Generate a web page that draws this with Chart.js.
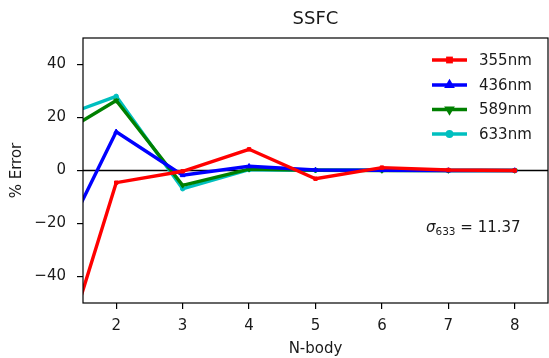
<!DOCTYPE html>
<html>
<head>
<meta charset="utf-8">
<script src="https://cdn.jsdelivr.net/npm/chart.js@4/dist/chart.umd.min.js"></script>
<style>
  html, body { margin: 0; padding: 0; background: #ffffff; }
  #wrap { width: 549px; height: 358px; }
</style>
</head>
<body>
<div id="wrap"><canvas id="c" width="549" height="358"></canvas></div>
<script>
// N-body order and percent error per wavelength
const nBody  = [1, 2, 3, 4, 5, 6, 7, 8];
const err355 = [-85.5, -4.6, -0.3, 8.0, -3.1, 1.1, 0.2, 0.0];
const err436 = [-36.4, 14.6, -1.8, 1.6, 0.2, 0.1, 0.0, 0.0];
const err589 = [11.4, 26.4, -5.6, 0.5, 0.1, 0.0, 0.0, 0.0];
const err633 = [18.8, 28.0, -6.9, 0.3, 0.1, 0.1, 0.0, 0.0];
const xTicks = [2, 3, 4, 5, 6, 7, 8];
const yTicks = [-40, -20, 0, 20, 40];
const seriesNames = ['355nm', '436nm', '589nm', '633nm'];
const sigmaLabel = { base: 'σ', sub: '633', rest: ' = 11.37' };

const FONT = 'DejaVu Sans';
const INK = '#1a1a1a';

function pts(ys) { return nBody.map((x, i) => ({ x: x, y: ys[i] })); }

const styles = [
  { color: '#ff0000', point: 'rect', rot: 0, r: 2.4 },
  { color: '#0000ff', point: 'triangle', rot: 0, r: 2.8 },
  { color: '#008000', point: 'triangle', rot: 180, r: 2.8 },
  { color: '#00bfbf', point: 'circle', rot: 0, r: 2.2 }
];
const allSeries = [err355, err436, err589, err633];

const datasets = allSeries.map((ys, i) => ({
  label: seriesNames[i],
  data: pts(ys),
  borderColor: styles[i].color,
  backgroundColor: styles[i].color,
  borderWidth: 3.4,
  pointStyle: styles[i].point,
  pointRotation: styles[i].rot,
  pointRadius: styles[i].r,
  pointBorderWidth: 1,
  tension: 0
}));

const decor = {
  id: 'decor',
  beforeDatasetsDraw(chart) {
    const { ctx, chartArea: a, scales } = chart;
    const y0 = scales.y.getPixelForValue(0);
    ctx.save();
    ctx.strokeStyle = '#000';
    ctx.lineWidth = 1.5;
    ctx.beginPath();
    ctx.moveTo(a.left, y0);
    ctx.lineTo(a.right, y0);
    ctx.stroke();
    ctx.restore();
  },
  afterDraw(chart) {
    const { ctx, chartArea: a } = chart;
    ctx.save();
    // axes frame
    ctx.strokeStyle = '#000';
    ctx.lineWidth = 1.2;
    ctx.strokeRect(a.left, a.top, a.right - a.left, a.bottom - a.top);

    // title
    ctx.fillStyle = INK;
    ctx.font = '18px "' + FONT + '"';
    ctx.textAlign = 'center';
    ctx.textBaseline = 'middle';
    ctx.fillText('SSFC', (a.left + a.right) / 2, 19);

    // axis titles
    ctx.font = '15px "' + FONT + '"';
    ctx.fillText('N-body', (a.left + a.right) / 2, 349);
    ctx.save();
    ctx.translate(17, (a.top + a.bottom) / 2);
    ctx.rotate(-Math.PI / 2);
    ctx.fillText('% Error', 0, 0);
    ctx.restore();

    // legend
    ctx.textAlign = 'left';
    const rowY = [60, 85, 109.5, 134];
    chart.data.datasets.forEach((ds, i) => {
      const y = rowY[i];
      ctx.strokeStyle = ds.borderColor;
      ctx.lineWidth = 3.4;
      ctx.beginPath();
      ctx.moveTo(432, y);
      ctx.lineTo(467, y);
      ctx.stroke();
      ctx.fillStyle = ds.borderColor;
      Chart.helpers.drawPoint(ctx, {
        pointStyle: ds.pointStyle, rotation: ds.pointRotation,
        radius: ds.pointRadius, borderWidth: 1
      }, 449.5, y);
      ctx.fillStyle = INK;
      ctx.fillText(ds.label, 479, y + 1);
    });

    // sigma annotation
    let x = 426;
    const yb = 232;
    ctx.textBaseline = 'alphabetic';
    ctx.font = 'italic 15px "' + FONT + '"';
    ctx.fillText(sigmaLabel.base, x, yb);
    x += ctx.measureText(sigmaLabel.base).width;
    ctx.font = '10.5px "' + FONT + '"';
    ctx.fillText(sigmaLabel.sub, x, yb + 3);
    x += ctx.measureText(sigmaLabel.sub).width;
    ctx.font = '15px "' + FONT + '"';
    ctx.fillText(sigmaLabel.rest, x, yb);
    ctx.restore();
  }
};

new Chart(document.getElementById('c'), {
  type: 'line',
  data: { datasets: datasets },
  plugins: [decor],
  options: {
    responsive: false,
    animation: false,
    layout: { autoPadding: false, padding: { top: 38, right: 1, left: 0, bottom: 0 } },
    plugins: { legend: { display: false }, title: { display: false }, tooltip: { enabled: false } },
    scales: {
      x: {
        type: 'linear', min: 1.5, max: 8.5,
        afterBuildTicks(s) { s.ticks = xTicks.map(v => ({ value: v })); },
        afterFit(s) { s.height = 55; s.paddingLeft = 0; s.paddingRight = 0; },
        border: { display: false },
        grid: { drawOnChartArea: false, drawTicks: true, tickLength: 6, color: '#000', lineWidth: 1.2 },
        ticks: { color: INK, font: { family: FONT, size: 15 }, padding: 8, maxRotation: 0 }
      },
      y: {
        type: 'linear', min: -50, max: 50,
        afterBuildTicks(s) { s.ticks = yTicks.map(v => ({ value: v })); },
        afterFit(s) { s.width = 83; s.paddingTop = 0; s.paddingBottom = 0; },
        border: { display: false },
        grid: { drawOnChartArea: false, drawTicks: true, tickLength: 6, color: '#000', lineWidth: 1.2 },
        ticks: {
          color: INK, font: { family: FONT, size: 15 }, padding: 11,
          callback: v => String(v).replace('-', '\u2212')
        }
      }
    }
  }
});
</script>
</body>
</html>
